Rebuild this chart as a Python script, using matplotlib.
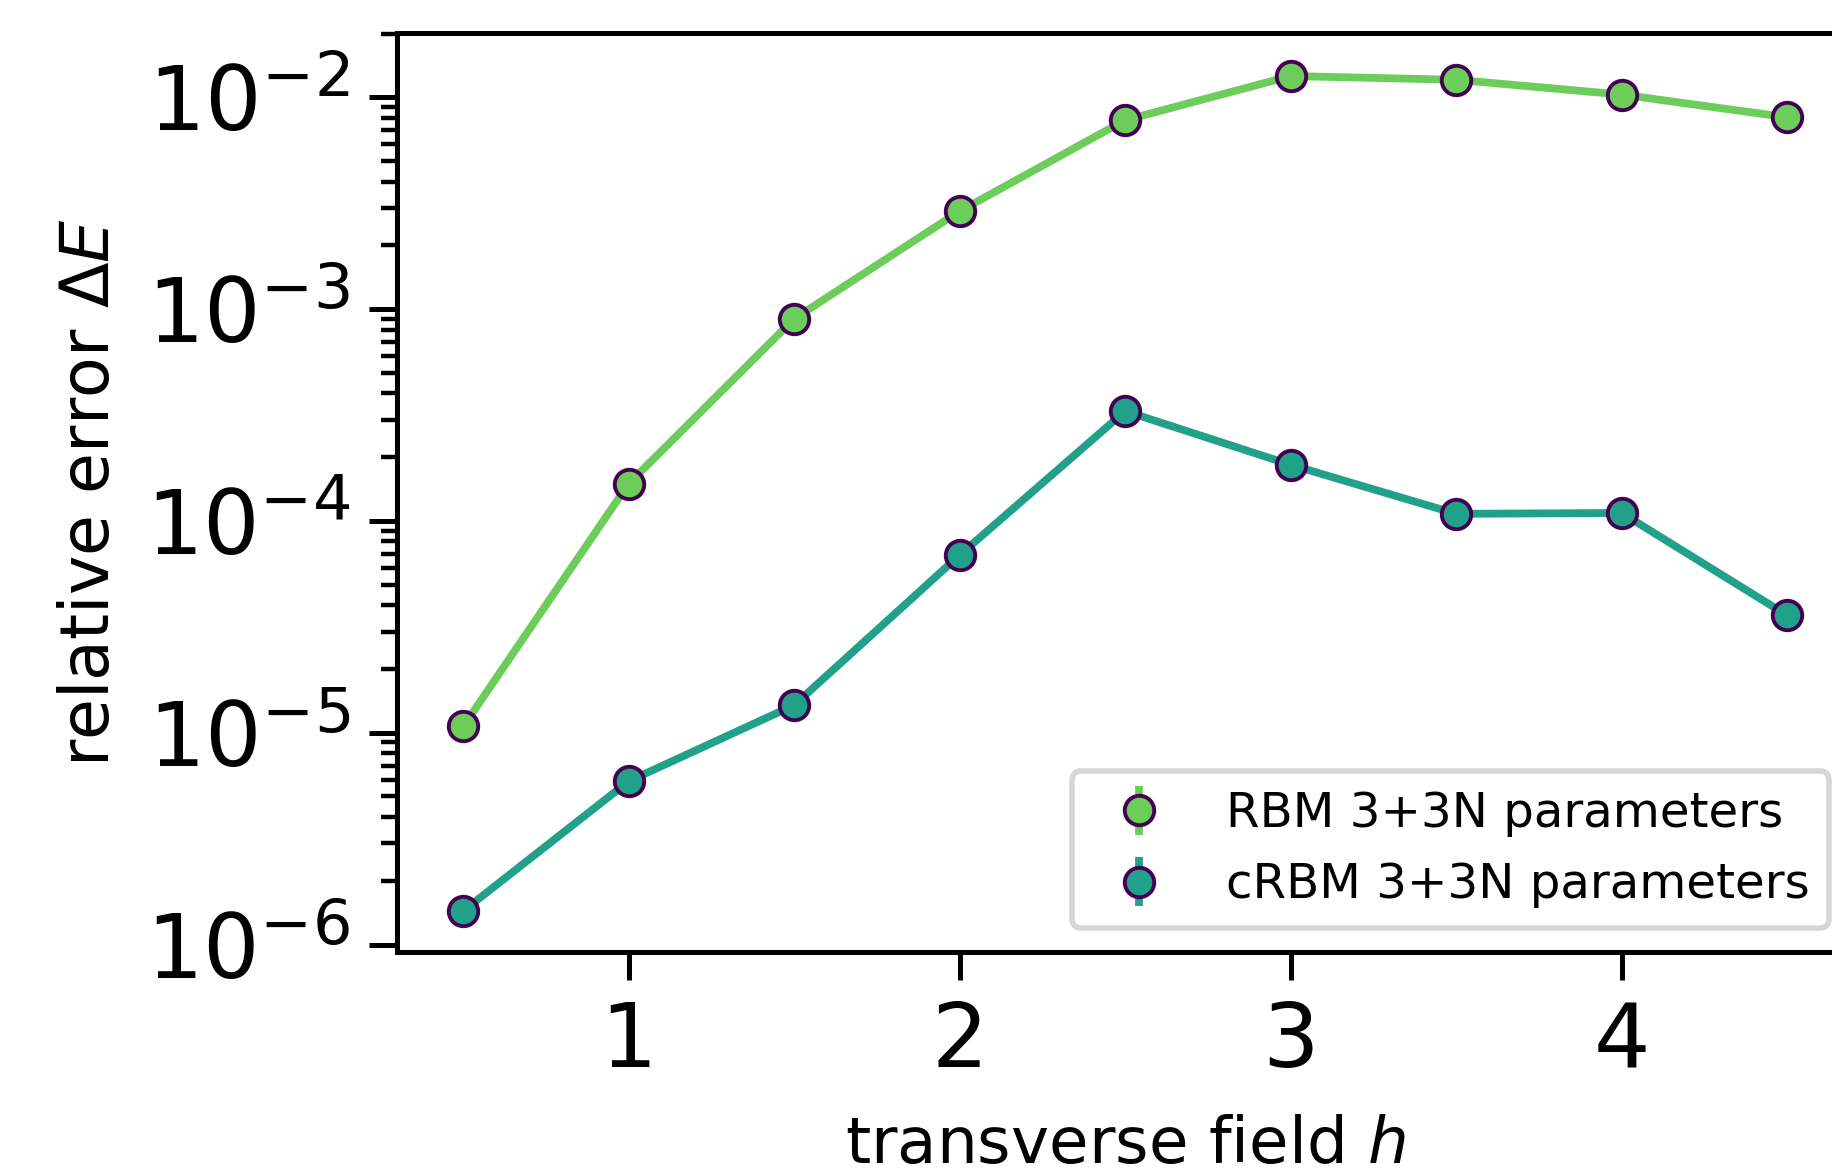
import numpy as np
import matplotlib
matplotlib.use("Agg")
import matplotlib.pyplot as plt

# campo transversal h
h = [0.5, 1.0, 1.5, 2.0, 2.5, 3.0, 3.5, 4.0, 4.5]

# error relativo
err_rbm = [1.07e-5, 1.5e-4, 9.0e-4, 2.9e-3, 7.8e-3, 1.26e-2, 1.21e-2, 1.03e-2, 8.05e-3]
err_crbm = [1.44e-6, 5.9e-6, 1.35e-5, 6.9e-5, 3.3e-4, 1.84e-4, 1.08e-4, 1.09e-4, 3.58e-5]

# barras de error (muy pequeñas, no se ven en el grafico)
sd_rbm = [0.0] * len(h)
sd_crbm = [0.0] * len(h)

labels = ["RBM 3+3N parameters", "cRBM 3+3N parameters"]
colores = ["#6ccd5a", "#21a08a"]
borde = "#440154"

fig = plt.figure(figsize=(4.58, 2.92), dpi=400)
ax = fig.add_axes([0.2167, 0.185, 0.795, 0.787])

for y, sd, lab, col in zip([err_rbm, err_crbm], [sd_rbm, sd_crbm], labels, colores):
    # linea sin etiqueta, puntos con barra de error en la leyenda
    ax.plot(h, y, '-', color=col, lw=1.4, zorder=2)
    ax.errorbar(h, y, yerr=sd, fmt='o', color=col, elinewidth=1.4, ms=5.3,
                mfc=col, mec=borde, mew=0.7, label=lab, zorder=3)

ax.set_yscale('log')
ax.set_xlim(0.3, 4.7)
ax.set_ylim(10**-6.035, 10**-1.695)
ax.set_xticks([1, 2, 3, 4])
ax.tick_params(axis='both', which='major', labelsize=16, length=5, width=0.9)
ax.tick_params(axis='both', which='minor', length=2.8, width=0.8)
for s in ax.spines.values():
    s.set_linewidth(0.9)

ax.set_xlabel('transverse field $h$', fontsize=11.6, labelpad=5)
ax.set_ylabel(r'relative error $\Delta E$', fontsize=12)

ax.legend(loc='lower right', fontsize=8.7)

fig.savefig("out.png", dpi=400)
